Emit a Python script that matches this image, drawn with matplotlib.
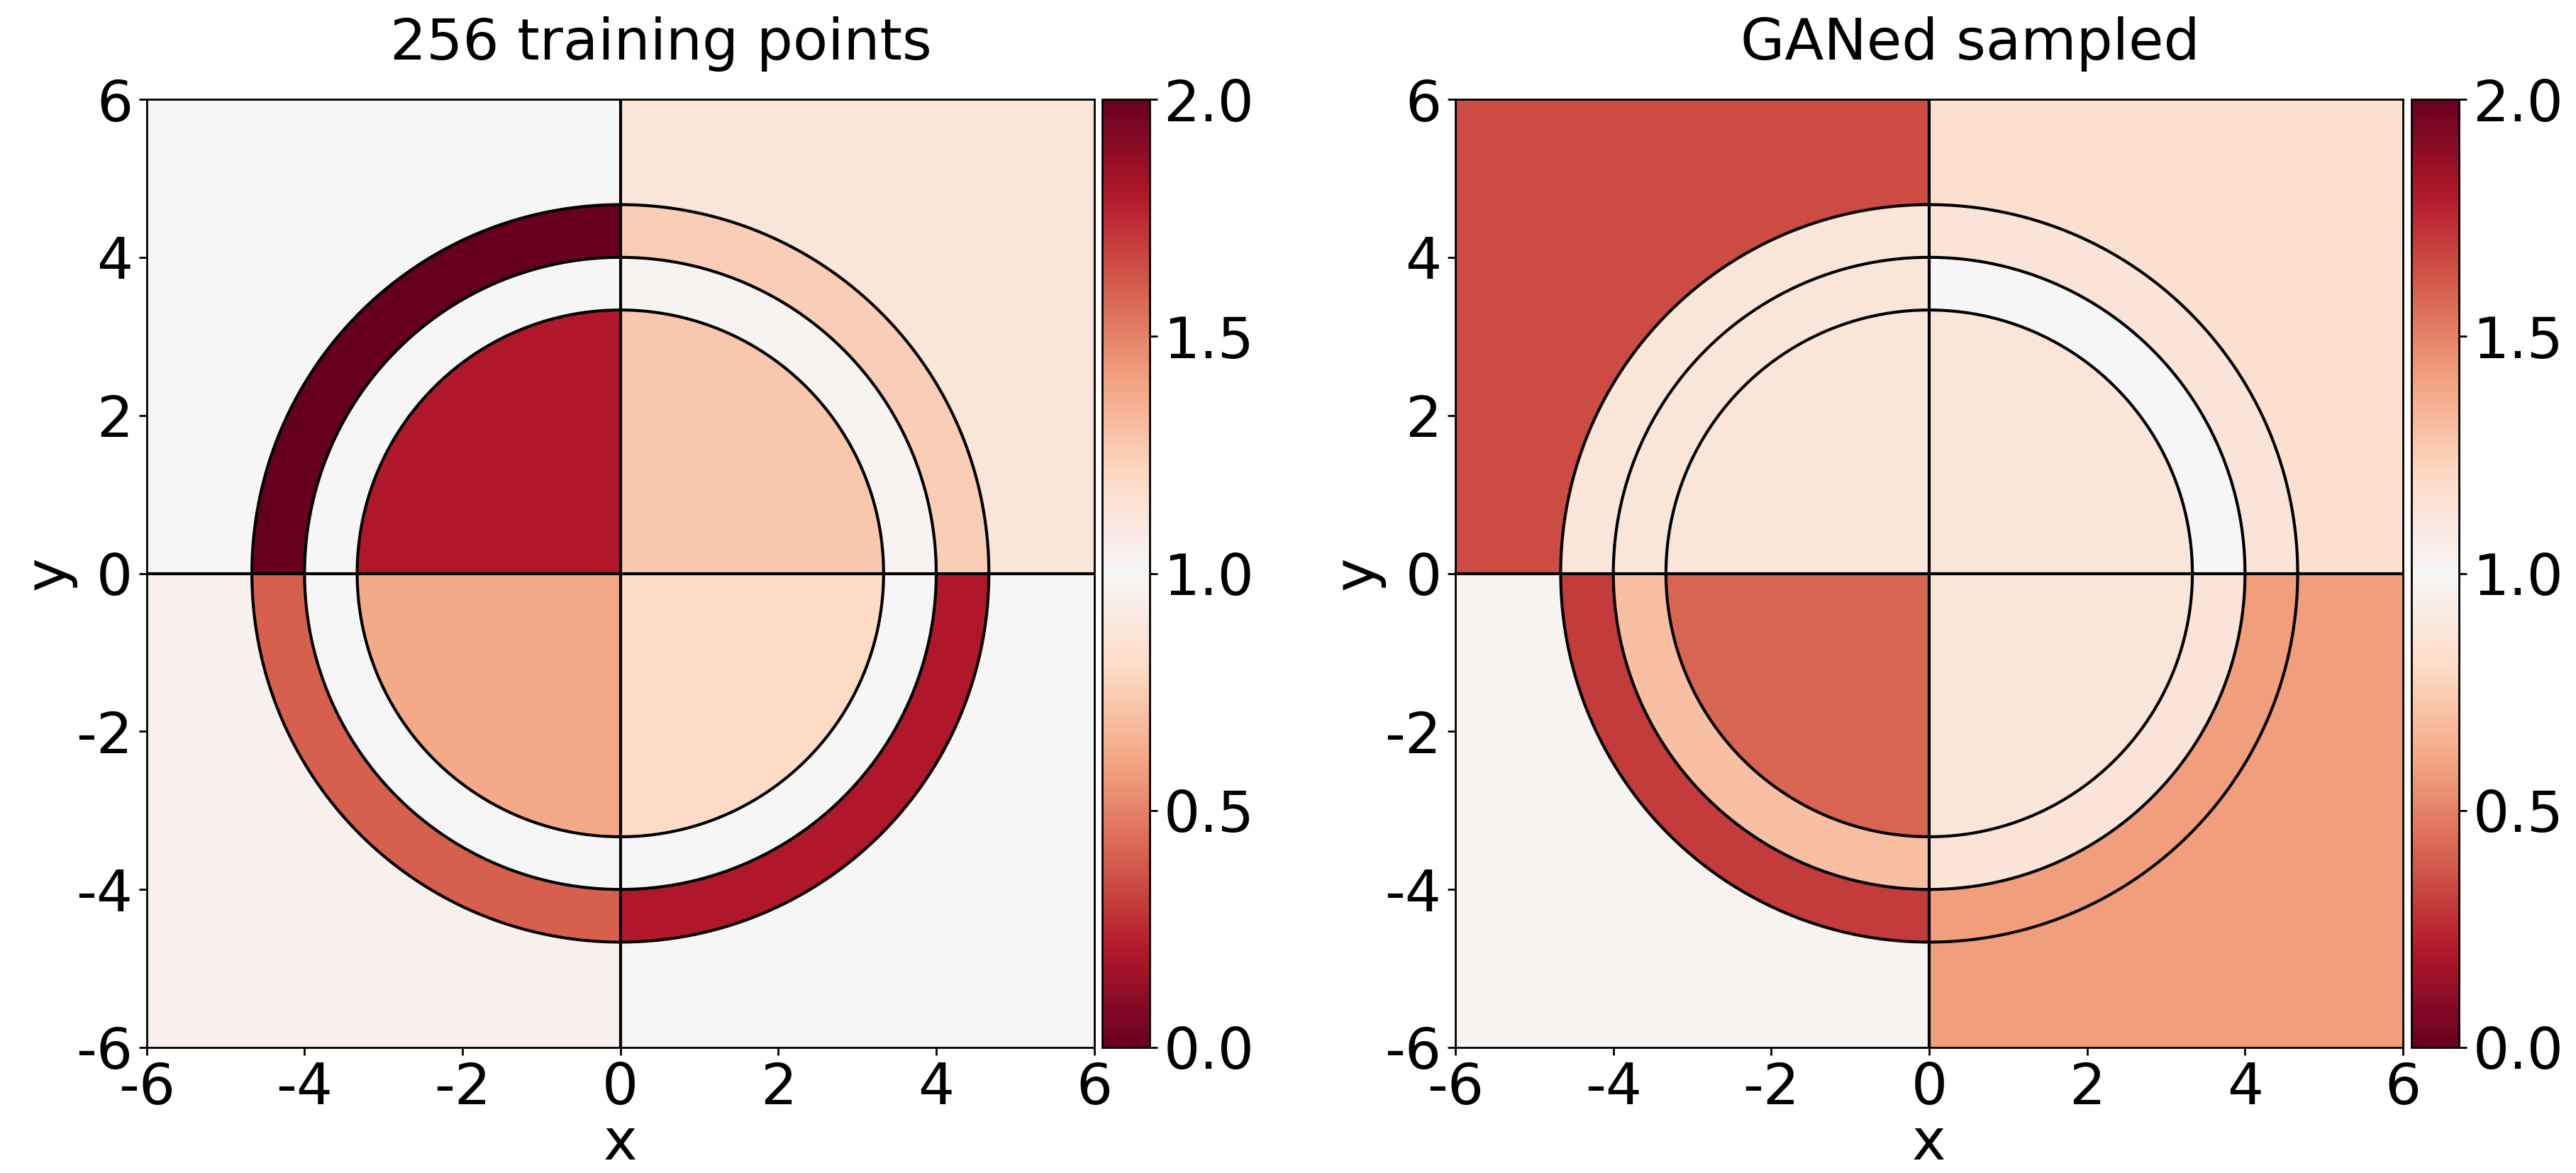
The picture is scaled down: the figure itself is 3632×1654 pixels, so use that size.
import numpy as np
import matplotlib
matplotlib.use("Agg")
import matplotlib.pyplot as plt
from matplotlib.colors import ListedColormap, Normalize

plt.rcParams["font.family"] = ["DejaVu Sans"]
plt.rcParams["axes.unicode_minus"] = False

# Radial bands (inner disc, two rings, outside) and quadrant boundaries
ring_edges = [10 / 3, 4.0, 14 / 3]
quadrants = ["x>0,y>0", "x<0,y>0", "x<0,y<0", "x>0,y<0"]
bands = ["inner", "middle", "outer", "outside"]

titles = ["256 training points", "GANed sampled"]

# Cell values per band (rows) and quadrant (columns)
train_values = [
    [0.73, 0.20, 0.62, 0.80],   # inner disc
    [0.97, 1.00, 1.00, 1.00],   # middle ring
    [0.75, 0.00, 0.40, 0.20],   # outer ring
    [0.88, 1.00, 0.96, 1.00],   # outside
]
gan_values = [
    [0.88, 0.88, 0.42, 0.88],
    [1.00, 0.88, 0.70, 0.87],
    [0.87, 0.88, 0.30, 0.58],
    [0.84, 0.35, 0.97, 0.58],
]

cbar_ticks = [0.0, 0.5, 1.0, 1.5, 2.0]
axis_ticks = [-6, -4, -2, 0, 2, 4, 6]

# Colour scale: white at 1, deepening red away from 1 in both directions
rdbu = plt.get_cmap("RdBu")
half = rdbu(np.linspace(0.0, 0.5, 128))
cmap = ListedColormap(np.vstack([half, half[::-1]]))
norm = Normalize(vmin=0.0, vmax=2.0)

n = 1400
xs = np.linspace(-6, 6, n)
X, Y = np.meshgrid(xs, xs)
R = np.hypot(X, Y)
band_idx = np.digitize(R, ring_edges)
quad_idx = np.where(X >= 0, np.where(Y >= 0, 0, 3), np.where(Y >= 0, 1, 2))

fig = plt.figure(figsize=(18.16, 8.27), dpi=200)
W, H = 3632, 1654
ax_rects = [
    [206.7 / W, (H - 1477) / H, 1336 / W, 1337 / H],
    [2052 / W, (H - 1477) / H, 1336 / W, 1337 / H],
]
cb_rects = [
    [1554 / W, (H - 1477) / H, 67 / W, 1337 / H],
    [3400 / W, (H - 1477) / H, 67 / W, 1337 / H],
]

fs = 29
theta = np.linspace(0, 2 * np.pi, 720)
for values, title, ar, cr in zip([train_values, gan_values], titles, ax_rects, cb_rects):
    ax = fig.add_axes(ar)
    cax = fig.add_axes(cr)
    vals = np.asarray(values)
    Z = vals[band_idx, quad_idx]
    im = ax.imshow(Z, extent=[-6, 6, -6, 6], origin="lower", cmap=cmap, norm=norm,
                   interpolation="nearest", aspect="auto")
    for r in ring_edges:
        ax.plot(r * np.cos(theta), r * np.sin(theta), color="black", lw=1.5)
    ax.axhline(0, color="black", lw=1.5)
    ax.axvline(0, color="black", lw=1.5)
    ax.set_xlim(-6, 6)
    ax.set_ylim(-6, 6)
    ax.set_xticks(axis_ticks)
    ax.set_yticks(axis_ticks)
    ax.set_xticklabels([str(t) for t in axis_ticks])
    ax.set_yticklabels([str(t) for t in axis_ticks])
    ax.tick_params(labelsize=fs, length=4, width=1, pad=3)
    for s in ax.spines.values():
        s.set_linewidth(1)
    ax.set_xlabel("x", fontsize=fs, labelpad=0)
    ax.set_ylabel("y", fontsize=fs, labelpad=0)
    # title centred over the plot together with its colour bar
    ax.set_title(title, fontsize=fs, pad=20, x=0.543)

    cb = fig.colorbar(im, cax=cax, ticks=cbar_ticks)
    cb.ax.set_yticklabels([f"{t:.1f}" for t in cbar_ticks])
    cb.ax.tick_params(labelsize=fs, length=4, width=1, pad=3)
    cb.outline.set_linewidth(1)

fig.savefig("out.png", dpi=200)
